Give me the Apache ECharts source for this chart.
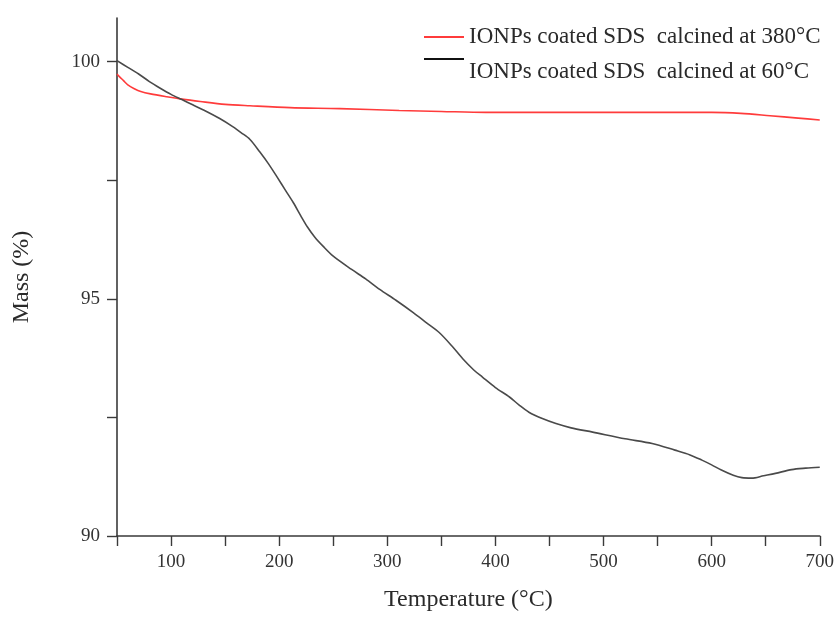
<!DOCTYPE html>
<html>
<head>
<meta charset="utf-8">
<script src="https://cdn.jsdelivr.net/npm/echarts@6/dist/echarts.min.js"></script>
<style>html,body{margin:0;padding:0;background:#fff}#c{width:837px;height:617px}</style>
</head>
<body>
<div id="c"></div>
<script>
// ---- data ----
const seriesNames = ['IONPs coated SDS  calcined at 380°C', 'IONPs coated SDS  calcined at 60°C'];
// calcined at 380°C (red)
const tempRed = [50, 52, 56, 60, 66, 72, 81, 96, 110, 127, 150, 173, 210, 256, 311, 350, 391, 450, 500, 550, 600, 627, 654, 680, 700];
const massRed = [99.74, 99.69, 99.6, 99.51, 99.43, 99.37, 99.32, 99.26, 99.21, 99.16, 99.1, 99.07, 99.03, 99.01, 98.97, 98.95, 98.93, 98.93, 98.93, 98.93, 98.93, 98.91, 98.86, 98.81, 98.77];
// calcined at 60°C (black)
const tempBlack = [50, 60, 70, 80, 90, 100, 110, 120, 130, 145, 157, 165, 173, 182, 190, 198, 206, 213, 220, 226, 233, 241, 250, 267, 280, 293, 308, 324, 336, 348, 360, 370, 380, 388, 400, 413, 422, 431, 444, 456, 470, 490, 520, 545, 566, 580, 591, 600, 609, 620, 628, 637, 648, 659, 674, 687, 700];
const massBlack = [100.02, 99.88, 99.74, 99.58, 99.44, 99.31, 99.2, 99.09, 98.98, 98.8, 98.63, 98.5, 98.36, 98.1, 97.85, 97.57, 97.28, 97.03, 96.75, 96.52, 96.3, 96.1, 95.9, 95.62, 95.42, 95.2, 94.97, 94.71, 94.5, 94.29, 94.0, 93.73, 93.5, 93.35, 93.13, 92.93, 92.76, 92.61, 92.47, 92.37, 92.28, 92.19, 92.05, 91.95, 91.81, 91.71, 91.6, 91.5, 91.39, 91.28, 91.23, 91.22, 91.27, 91.32, 91.4, 91.43, 91.45];
// axes
const xTicks = [50, 100, 150, 200, 250, 300, 350, 400, 450, 500, 550, 600, 650, 700];
const xLabels = [100, 200, 300, 400, 500, 600, 700];
const yTicks = [90, 92.5, 95, 97.5, 100];
const yLabels = [90, 95, 100];
const xTitle = 'Temperature (°C)';
const yTitle = 'Mass (%)';

const pair = (xs, ys) => xs.map((x, i) => [x, ys[i]]);
const FONT = '"Liberation Serif", "DejaVu Serif", serif';
const AX = '#3a3a3a';
const LEG_FS = 23;

const chart = echarts.init(document.getElementById('c'), null, {renderer: 'canvas'});
chart.setOption({
  animation: false,
  backgroundColor: '#ffffff',
  grid: {left: 117, right: 15, top: 18, bottom: 78, containLabel: false},
  legend: [
    {
      data: [seriesNames[0]], left: 424, top: 24, orient: 'vertical', padding: 0,
      icon: 'rect', itemWidth: 40, itemHeight: 2,
      textStyle: {fontFamily: FONT, fontSize: LEG_FS, color: '#2a2a2a', lineHeight: 26}
    },
    {
      data: [seriesNames[1]], left: 424, top: 33, orient: 'vertical', padding: 0,
      icon: 'rect', itemWidth: 40, itemHeight: 2,
      formatter: name => '\n' + name,
      textStyle: {fontFamily: FONT, fontSize: LEG_FS, color: '#2a2a2a', lineHeight: 26}
    }
  ],
  xAxis: {
    type: 'value', min: 50, max: 700,
    name: xTitle, nameLocation: 'middle', nameGap: 52,
    nameTextStyle: {fontFamily: FONT, fontSize: 24, color: '#2a2a2a'},
    axisLine: {show: true, lineStyle: {color: AX, width: 1.6}},
    axisTick: {show: true, inside: false, length: 10, customValues: xTicks, lineStyle: {color: AX, width: 1.4}},
    axisLabel: {customValues: xLabels, margin: 17, fontFamily: FONT, fontSize: 19, color: '#333'},
    splitLine: {show: false}
  },
  yAxis: {
    type: 'value', min: 90, max: 100.92,
    name: yTitle, nameLocation: 'middle', nameGap: 83, nameRotate: 90,
    nameTextStyle: {fontFamily: FONT, fontSize: 24, color: '#2a2a2a'},
    axisLine: {show: true, lineStyle: {color: AX, width: 1.6}},
    axisTick: {show: true, inside: false, length: 10, customValues: yTicks, lineStyle: {color: AX, width: 1.4}},
    axisLabel: {customValues: yLabels, margin: 17, fontFamily: FONT, fontSize: 19, color: '#333'},
    splitLine: {show: false}
  },
  series: [
    {
      name: seriesNames[0], type: 'line', data: pair(tempRed, massRed),
      smooth: 0.3, showSymbol: false, symbol: 'none',
      lineStyle: {color: '#ff3b3b', width: 1.6}, itemStyle: {color: '#ff3b3b'}
    },
    {
      name: seriesNames[1], type: 'line', data: pair(tempBlack, massBlack),
      smooth: 0.3, showSymbol: false, symbol: 'none',
      lineStyle: {color: '#4a4a4a', width: 1.6}, itemStyle: {color: '#111111'}
    }
  ]
});
</script>
</body>
</html>
